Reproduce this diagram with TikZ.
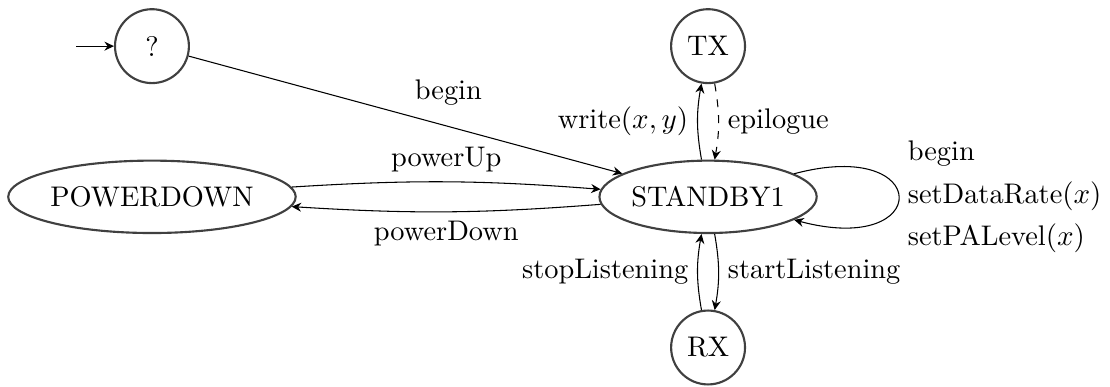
\documentclass[tikz,border=0pt]{standalone}
\usepackage{amsmath}
\usepackage{tikz}
\usetikzlibrary{arrows.meta,positioning,shapes.geometric}
\definecolor{StateLine}{RGB}{64,64,64}

\begin{document}
\begin{tikzpicture}[>={Stealth[length=3.6pt,width=3.4pt,inset=1.2pt]},
    font=\fontsize{10.7pt}{14.2pt}\selectfont,
    node distance=1cm,
    circstate/.style={circle, draw=StateLine, thick, minimum size=0.98cm, inner sep=1pt},
    ellstate/.style={ellipse, draw=StateLine, thick, minimum height=0.96cm, inner sep=0pt},
    trans/.style={->, bend left=10},
    looplbl/.style={align=left, font=\fontsize{10.7pt}{16pt}\selectfont}
  ]
    \useasboundingbox (-9.39,-2.52) rectangle (5.33,2.61);
    \node[ellstate] (standby) at (0,0) {STANDBY1};
    \node[ellstate, left=4cm of standby] (powerdown) {POWERDOWN};
    \node[circstate, above=of powerdown] (init) {?};
    \node[circstate, above=of standby] (tx) {TX};
    \node[circstate, below=of standby] (rx) {RX};
    \coordinate[left=0.5cm of init] (entry);

    \draw[->] (entry) -- (init);
    \draw[->] (init) -- node[auto] {begin} (standby);
    \draw[trans, bend left=4] (powerdown) to node[auto] {powerUp} (standby);
    \draw[trans, bend left=4] (standby) to node[auto] {powerDown} (powerdown);
    \draw[trans] (standby) to node[auto] {write$(x,y)$} (tx);
    \draw[trans, dashed] (tx) to node[auto] {epilogue} (standby);
    \draw[trans] (standby) to node[auto] {startListening} (rx);
    \draw[trans] (rx) to node[auto] {stopListening} (standby);
    % self loop
    \draw[->] (standby) to[loop right] node[looplbl] (selflbl)
      {begin\\setDataRate$(x)$\\setPALevel$(x)$} (standby);
\end{tikzpicture}
\end{document}
